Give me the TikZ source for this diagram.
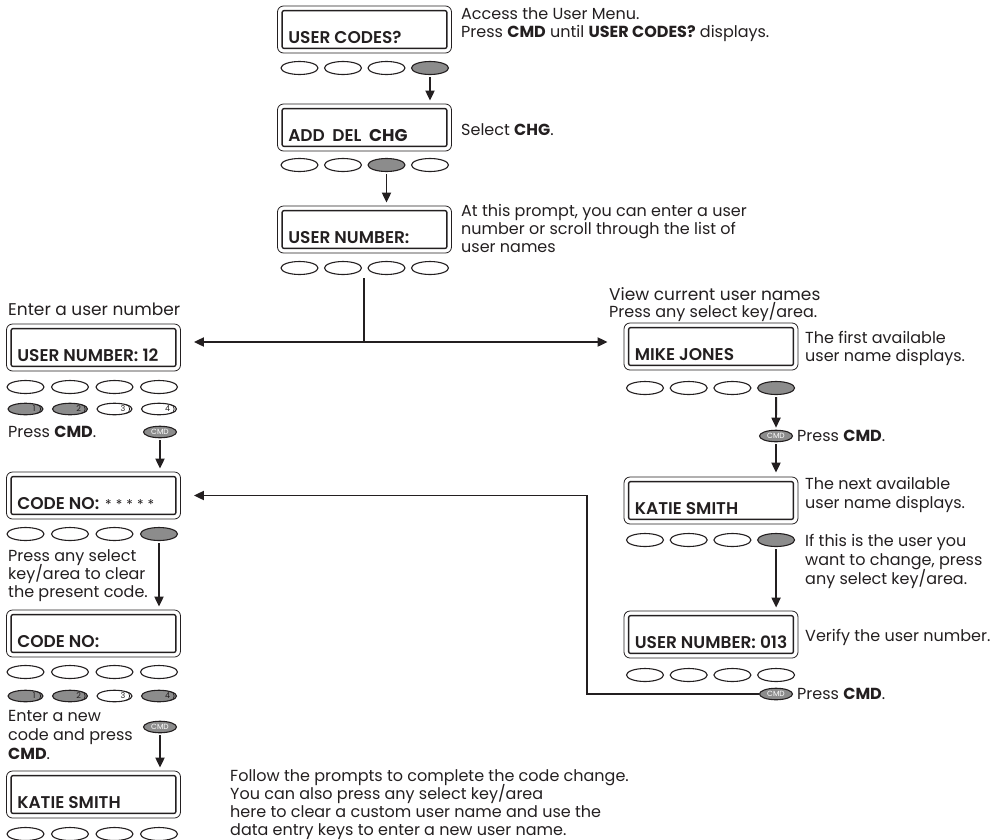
\documentclass[tikz,border=0pt]{standalone}
\usepackage{fontspec}
\setmainfont{Poppins}
\newfontfamily\lblfont{Poppins SemiBold}
\newfontfamily\lblbold{Poppins}
\usetikzlibrary{shapes.geometric,arrows.meta}
\definecolor{keygray}{RGB}{140,140,140}
\definecolor{ink}{RGB}{35,31,32}
\tikzset{
  scr/.style={draw=ink, line width=0.8pt, rounded corners=6pt, minimum width=174pt, minimum height=47pt, inner sep=0},
  lbl/.style={font=\fontsize{17}{18}\lblfont, inner sep=0, text=ink},
  txt/.style={font=\fontsize{16}{18}\selectfont, inner sep=0, anchor=base west, text=ink},
  head/.style={txt, font=\fontsize{17}{18}\selectfont},
  kbtn/.style={ellipse, draw=ink, line width=1.1pt, minimum width=37pt, minimum height=13pt, inner sep=0},
  nkey/.style={ellipse, draw=ink, line width=1.1pt, minimum width=35pt, minimum height=11.5pt, inner sep=0},
  cmdk/.style={ellipse, draw=ink, fill=keygray, line width=1.1pt, minimum width=33pt, minimum height=11.5pt, inner sep=0, font=\fontsize{7.5}{8}\selectfont, text=white},
  conn/.style={draw=ink, line width=1.9pt},
  arr/.style={conn, -{Triangle[length=10pt,width=9pt]}},
  dbl/.style={conn, {Triangle[length=10pt,width=9pt]}-{Triangle[length=10pt,width=9pt]}},
}
\newcommand\scrbox[4]{%
  \node[scr] (#1) at (#2,#3) {};
  \draw[line width=1.4pt, rounded corners=2pt, draw=ink] ([shift={(5,5)}]#1.north west) rectangle ([shift={(-5,-5)}]#1.south east);
  \node[lbl, anchor=base west] (#1t) at ([shift={(11,-10)}]#1.south west) {#4};
}
\newcommand\keyrow[5]{%
  \foreach \i in {1,...,4}{%
    \pgfmathsetmacro\kx{#2+(\i-1)*#3}%
    \ifnum\i=#5\relax \node[kbtn,fill=keygray] (#1\i) at (\kx,#4) {};%
    \else \node[kbtn] (#1\i) at (\kx,#4) {};\fi}%
}
\newcommand\numkey[5]{%
  \node[nkey, fill=#5] (#1) at (#2,#3) {};
  \node[inner sep=0, font=\fontsize{8}{8}\selectfont, text=ink] (#1d) at ([xshift=-9.5pt]#1.east) {#4};
  \draw[draw=ink, line width=0.7pt] ([shift={(-7,-4.5)}]#1.east) .. controls ([shift={(-1.5,-4.5)}]#1.east) and ([shift={(-1.5,4.5)}]#1.east) .. ([shift={(-7,4.5)}]#1.east);
}
\begin{document}
\begin{tikzpicture}[x=1pt,y=-1pt]
\useasboundingbox (0,0) rectangle (1007,839);
% ---------- top column ----------
\scrbox{b1}{364.5}{29.5}{USER CODES?}
\keyrow{ka}{299.5}{43.5}{68}{4}
\scrbox{b2}{364.5}{127.5}{ADD\hspace{0.45em}DEL\hspace{0.45em}{\lblbold\bfseries CHG}}
\keyrow{kb}{299.5}{43.5}{165}{3}
\scrbox{b3}{364.5}{229.5}{USER NUMBER:}
\keyrow{kc}{299.5}{43.5}{268}{0}
\draw[arr, shorten <=2pt, shorten >=3pt] (ka4.south) -- (ka4.south |- b2.north);
\draw[arr, shorten <=2pt, shorten >=3pt] (kb3.south) -- (kb3.south |- b3.north);
\node[txt] (t1a) at (461,19) {Access the User Menu.};
\node[txt] (t1b) at (461,37) {Press \textbf{CMD} until \textbf{USER CODES?} displays.};
\node[txt] (t2) at (461,135) {Select \textbf{CHG}.};
\node[txt] (t3a) at (461,216) {At this prompt, you can enter a user};
\node[txt] (t3b) at (461,234) {number or scroll through the list of};
\node[txt] (t3c) at (461,252) {user names};
% ---------- branch ----------
\coordinate (bt) at (364,278);
\coordinate (br) at (364,342);
\draw[conn] (bt) -- (br);
% ---------- left column ----------
\node[head] (t4) at (8,315) {Enter a user number};
\scrbox{bA}{93.5}{347.5}{USER NUMBER: 12}
\keyrow{kd}{25.5}{44.5}{387}{0}
\numkey{n1}{25.5}{409}{1}{keygray}
\numkey{n2}{70}{409}{2}{keygray}
\numkey{n3}{114.5}{409}{3}{white}
\numkey{n4}{159}{409}{4}{white}
\node[txt] (t5) at (8,437) {Press \textbf{CMD}.};
\node[cmdk] (ca) at (160,432) {CMD};
\scrbox{bB}{93.5}{495.5}{CODE NO:\hspace{0.35em}{\normalfont\fontsize{13.5}{13}\selectfont *\hspace{0.3em}*\hspace{0.3em}*\hspace{0.3em}*\hspace{0.3em}*}}
\draw[arr, shorten <=2pt, shorten >=3pt] (ca.south) -- (ca.south |- bB.north);
\keyrow{ke}{25.5}{44.5}{534}{4}
\node[txt] (t6a) at (8,561) {Press any select};
\node[txt] (t6b) at (8,579) {key/area to clear};
\node[txt] (t6c) at (8,597) {the present code.};
\scrbox{bC}{93.5}{633.5}{CODE NO:}
\draw[arr, shorten <=2pt, shorten >=3pt] (ke4.south) -- (ke4.south |- bC.north);
\keyrow{kf}{25.5}{44.5}{672}{0}
\numkey{m1}{25.5}{696}{1}{keygray}
\numkey{m2}{70}{696}{2}{keygray}
\numkey{m3}{114.5}{696}{3}{white}
\numkey{m4}{159}{696}{4}{keygray}
\node[txt] (t7a) at (8,721) {Enter a new};
\node[txt] (t7b) at (8,740) {code and press};
\node[txt] (t7c) at (8,759) {\textbf{CMD}.};
\node[cmdk] (cb) at (160,727) {CMD};
\scrbox{bD}{93.5}{794.5}{KATIE SMITH}
\draw[arr, shorten <=2pt, shorten >=3pt] (cb.south) -- (cb.south |- bD.north);
\keyrow{kg}{25.5}{44.5}{834}{0}
\node[txt] (t15a) at (230,781) {Follow the prompts to complete the code change.};
\node[txt] (t15b) at (230,799) {You can also press any select key/area};
\node[txt] (t15c) at (230,817) {here to clear a custom user name and use the};
\node[txt] (t15d) at (230,835) {data entry keys to enter a new user name.};
% ---------- right column ----------
\node[head] (t8a) at (609,300) {View current user names};
\node[txt] (t8b) at (609,317) {Press any select key/area.};
\scrbox{bE}{711}{346.5}{MIKE JONES}
\keyrow{kh}{645}{43.7}{388}{4}
\node[txt] (t9a) at (805,343) {The first available};
\node[txt] (t9b) at (805,361) {user name displays.};
\node[cmdk] (ce) at (776,436) {CMD};
\node[txt] (t10) at (797,441) {Press \textbf{CMD}.};
\draw[arr, shorten <=2pt, shorten >=2pt] (kh4.south) -- (ce.north);
\scrbox{bF}{711}{500.5}{KATIE SMITH}
\draw[arr, shorten <=2pt, shorten >=4pt] (ce.south) -- (ce.south |- bF.north);
\node[txt] (t11a) at (805,489) {The next available};
\node[txt] (t11b) at (805,508) {user name displays.};
\keyrow{ki}{645}{43.7}{540}{4}
\node[txt] (t12a) at (805,546) {If this is the user you};
\node[txt] (t12b) at (805,565) {want to change, press};
\node[txt] (t12c) at (805,584) {any select key/area.};
\scrbox{bG}{711}{634.5}{USER NUMBER: 013}
\draw[arr, shorten <=2pt, shorten >=3pt] (ki4.south) -- (ki4.south |- bG.north);
\node[txt] (t13) at (805,641) {Verify the user number.};
\keyrow{kj}{645}{43.7}{675}{0}
\node[cmdk] (cg) at (776,694) {CMD};
\node[txt] (t14) at (797,699) {Press \textbf{CMD}.};
\coordinate (rc) at (587,694);
% ---------- connectors ----------
\draw[dbl, shorten <=13pt, shorten >=16pt] (br -| bA.east) -- (br -| bE.west);
\draw[arr, shorten >=13pt] (cg.west) -| (rc |- bB.east) -- (bB.east);
\end{tikzpicture}
\end{document}
